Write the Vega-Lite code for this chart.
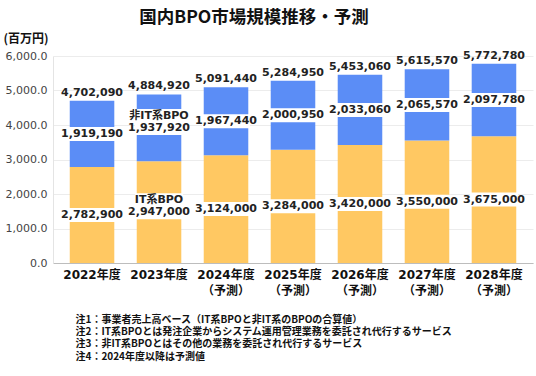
{
  "$schema": "https://vega.github.io/schema/vega-lite/v6.json",
  "width": 480,
  "height": 207,
  "autosize": "none",
  "padding": {"left": 53, "top": 56, "right": 3, "bottom": 113},
  "background": "white",
  "config": {
    "view": {"stroke": null},
    "axisY": {"tickCount": 6}
  },
  "title": {
    "text": "国内BPO市場規模推移・予測",
    "font": "Noto Sans CJK JP",
    "fontSize": 17.5,
    "fontWeight": "bold",
    "color": "#111",
    "anchor": "middle",
    "frame": "group",
    "dx": -39,
    "offset": 6
  },
  "data": {
    "values": [
      {"year": "2022年度", "type": "IT系BPO", "value": 2782900},
      {"year": "2022年度", "type": "非IT系BPO", "value": 1919190},
      {"year": "2023年度", "type": "IT系BPO", "value": 2947000},
      {"year": "2023年度", "type": "非IT系BPO", "value": 1937920},
      {"year": "2024年度", "type": "IT系BPO", "value": 3124000},
      {"year": "2024年度", "type": "非IT系BPO", "value": 1967440},
      {"year": "2025年度", "type": "IT系BPO", "value": 3284000},
      {"year": "2025年度", "type": "非IT系BPO", "value": 2000950},
      {"year": "2026年度", "type": "IT系BPO", "value": 3420000},
      {"year": "2026年度", "type": "非IT系BPO", "value": 2033060},
      {"year": "2027年度", "type": "IT系BPO", "value": 3550000},
      {"year": "2027年度", "type": "非IT系BPO", "value": 2065570},
      {"year": "2028年度", "type": "IT系BPO", "value": 3675000},
      {"year": "2028年度", "type": "非IT系BPO", "value": 2097780}
    ]
  },
  "transform": [
    {"stack": "value", "groupby": ["year"], "sort": [{"field": "type", "order": "ascending"}], "as": ["v0", "v1"]},
    {"calculate": "(datum.v0 + datum.v1) / 2", "as": "mid"}
  ],
  "encoding": {
    "x": {
      "field": "year",
      "type": "nominal",
      "sort": null,
      "scale": {"paddingInner": 0.335, "paddingOuter": 0.25},
      "axis": {
        "labelAngle": 0,
        "labelFont": "DejaVu Sans, Noto Sans CJK JP",
        "labelFontSize": 12,
        "labelFontWeight": "bold",
        "labelColor": "#111",
        "labelPadding": 6,
        "labelLineHeight": 16,
        "labelExpr": "datum.value == '2022年度' || datum.value == '2023年度' ? datum.value : [datum.value, '（予測）']",
        "ticks": false,
        "domainColor": "#bdbdbd",
        "grid": false,
        "title": [
          "注1：事業者売上高ベース（IT系BPOと非IT系のBPOの合算値）",
          "注2：IT系BPOとは発注企業からシステム運用管理業務を委託され代行するサービス",
          "注3：非IT系BPOとはその他の業務を委託され代行するサービス",
          "注4：2024年度以降は予測値"
        ],
        "titleFont": "Noto Sans CJK JP",
        "titleFontSize": 10,
        "titleFontWeight": "bold",
        "titleColor": "#111",
        "titleLineHeight": 12.4,
        "titleAnchor": "start",
        "titleAlign": "left",
        "titleBaseline": "top",
        "titleX": 22,
        "titleY": 51
      }
    }
  },
  "layer": [
    {
      "mark": {"type": "bar"},
      "encoding": {
        "y": {
          "field": "v0",
          "type": "quantitative",
          "scale": {"domain": [0, 6000000]},
          "axis": {
            "labelExpr": "format(datum.value / 1000, ',.1f')",
            "labelFont": "DejaVu Sans",
            "labelFontSize": 11,
            "labelColor": "#444",
            "labelPadding": 6,
            "ticks": false,
            "domainColor": "#e4e4e4",
            "gridColor": "#ececec",
            "title": "(百万円)",
            "titleFont": "Noto Sans CJK JP",
            "titleFontSize": 12,
            "titleFontWeight": "bold",
            "titleColor": "#111",
            "titleAngle": 0,
            "titleAlign": "left",
            "titleBaseline": "middle",
            "titleX": -50,
            "titleY": -18
          }
        },
        "y2": {"field": "v1"},
        "color": {
          "field": "type",
          "type": "nominal",
          "scale": {"domain": ["IT系BPO", "非IT系BPO"], "range": ["#FFC862", "#5B8DF6"]},
          "legend": null
        }
      }
    },
    {
      "mark": {"type": "tick", "color": "white", "thickness": 14, "size": 48, "opacity": 1},
      "encoding": {"y": {"field": "mid", "type": "quantitative"}}
    },
    {
      "transform": [{"filter": "datum.year == '2023年度'"}],
      "mark": {"type": "tick", "color": "white", "thickness": 14, "size": 48, "opacity": 1, "yOffset": -12},
      "encoding": {"y": {"field": "mid", "type": "quantitative"}}
    },
    {
      "transform": [{"filter": "datum.year == '2023年度'"}],
      "mark": {"type": "text", "font": "DejaVu Sans, Noto Sans CJK JP", "fontSize": 11, "fontWeight": "bold", "color": "#222", "baseline": "middle", "dy": -12},
      "encoding": {
        "y": {"field": "mid", "type": "quantitative"},
        "text": {"field": "type"}
      }
    },
    {
      "mark": {"type": "text", "font": "DejaVu Sans", "fontSize": 11, "fontWeight": "bold", "color": "#222", "baseline": "middle"},
      "encoding": {
        "y": {"field": "mid", "type": "quantitative"},
        "text": {"field": "value", "type": "quantitative", "format": ","}
      }
    },
    {
      "transform": [{"filter": "datum.type == '非IT系BPO'"}],
      "mark": {"type": "text", "font": "DejaVu Sans", "fontSize": 11, "fontWeight": "bold", "color": "#222", "baseline": "bottom", "dy": -3},
      "encoding": {
        "y": {"field": "v1", "type": "quantitative"},
        "text": {"field": "v1", "type": "quantitative", "format": ","}
      }
    }
  ]
}
